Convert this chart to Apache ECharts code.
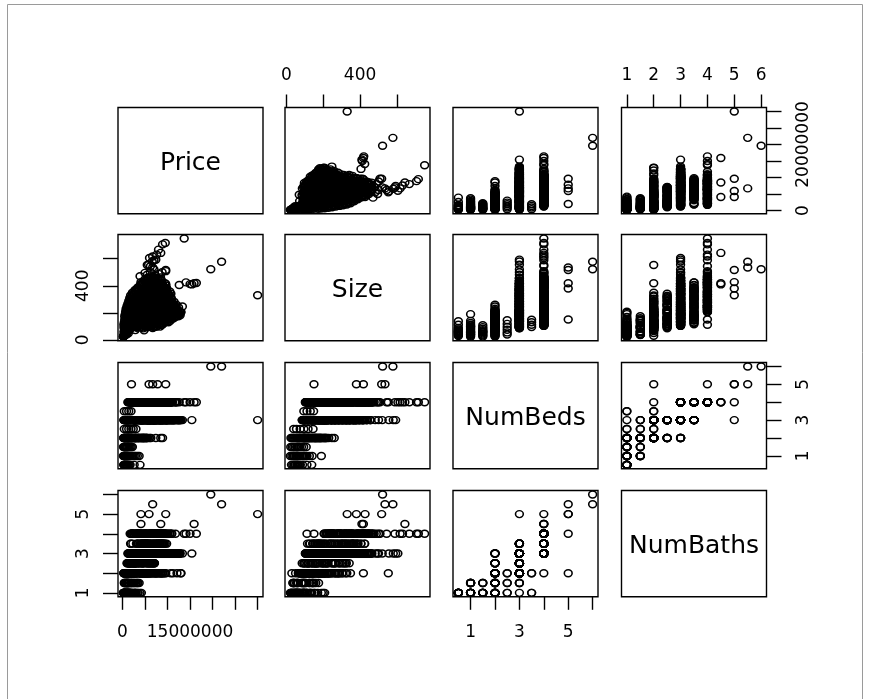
<!DOCTYPE html>
<html>
<head>
<meta charset="utf-8">
<script src="https://cdn.jsdelivr.net/npm/echarts@6/dist/echarts.min.js"></script>
<style>
  html, body { margin: 0; padding: 0; background: #fff; }
  #chart { width: 869px; height: 699px; }
</style>
</head>
<body>
<div id="chart"></div>
<script>
// Scatterplot matrix of house listings: Price, Size, NumBeds, NumBaths.
const varNames = ['Price', 'Size', 'NumBeds', 'NumBaths'];

// Each row is [price, size, beds, baths].
const smallHomes = [
  [250000, 28, 0.5, 1], [380000, 35, 0.5, 1], [420000, 60, 0.5, 1], [520000, 42, 0.5, 1], [650000, 50, 0.5, 1],
  [800000, 58, 0.5, 1], [950000, 64, 0.5, 1], [1100000, 70, 0.5, 1], [1300000, 48, 0.5, 1], [1500000, 76, 0.5, 1],
  [1700000, 88, 0.5, 1], [2600000, 112, 0.5, 1], [3900000, 138, 0.5, 1],
  [200000, 22, 1, 1], [350000, 30, 1, 1], [450000, 55, 1, 1], [500000, 38, 1, 1.5], [650000, 45, 1, 1],
  [800000, 52, 1, 1], [900000, 40, 1, 1.5], [950000, 60, 1, 1.5], [1100000, 66, 1, 1], [1300000, 74, 1, 1],
  [1500000, 82, 1, 1.5], [1750000, 90, 1, 1], [2000000, 98, 1, 1], [2300000, 105, 1, 1.5], [2600000, 112, 1, 1],
  [2900000, 96, 1, 1], [3300000, 125, 1, 1], [3700000, 140, 1, 1.5], [1200000, 190, 1, 1],
  [220000, 24, 1.5, 1], [400000, 32, 1.5, 1], [550000, 60, 1.5, 1], [600000, 40, 1.5, 1.5], [800000, 48, 1.5, 1],
  [1000000, 56, 1.5, 1], [1200000, 64, 1.5, 1.5], [1450000, 72, 1.5, 1], [1700000, 82, 1.5, 1], [1950000, 94, 1.5, 1.5],
  [2200000, 108, 1.5, 1],
  [400000, 40, 2.5, 1], [900000, 55, 2.5, 1.5], [1400000, 75, 2.5, 2], [1900000, 95, 2.5, 1], [2400000, 118, 2.5, 2],
  [3000000, 145, 2.5, 1.5],
  [400000, 95, 3.5, 1], [900000, 112, 3.5, 2], [1400000, 130, 3.5, 1], [1900000, 148, 3.5, 2]
];
const twoBedHomes = [
  [250000, 25, 2, 1], [600000, 40, 2, 1], [950000, 55, 2, 1], [1300000, 70, 2, 1], [1700000, 90, 2, 1],
  [2200000, 110, 2, 1], [2800000, 130, 2, 1], [3500000, 150, 2, 1], [4200000, 170, 2, 1], [1000000, 200, 2, 1],
  [3000000, 208, 2, 1],
  [400000, 35, 2, 1.5], [900000, 60, 2, 1.5], [1400000, 85, 2, 1.5], [2000000, 105, 2, 1.5], [2700000, 125, 2, 1.5],
  [3400000, 150, 2, 1.5], [1800000, 175, 2, 1.5],
  [300000, 30, 2, 2], [700000, 50, 2, 2], [1100000, 65, 2, 2], [1600000, 80, 2, 2], [2100000, 95, 2, 2],
  [2600000, 115, 2, 2], [3100000, 135, 2, 2], [3600000, 155, 2, 2], [4100000, 175, 2, 2], [4600000, 190, 2, 2],
  [5100000, 205, 2, 2], [5600000, 220, 2, 2], [6300000, 100, 2, 2], [7400000, 120, 2, 2], [8500000, 110, 2, 2],
  [2400000, 260, 2, 2], [4800000, 70, 2, 2], [5300000, 140, 2, 2],
  [1500000, 120, 2, 2.5], [2900000, 160, 2, 2.5], [4400000, 195, 2, 2.5],
  [2000000, 140, 2, 3], [3800000, 180, 2, 3], [5300000, 215, 2, 3], [8900000, 247, 2, 3],
  [450000, 45, 2, 1.5], [850000, 75, 2, 2], [1250000, 100, 2, 1], [1650000, 130, 2, 2], [2050000, 160, 2, 2.5],
  [2450000, 185, 2, 2], [2850000, 72, 2, 2], [3250000, 95, 2, 1.5], [3650000, 118, 2, 2.5], [4050000, 142, 2, 2],
  [4450000, 165, 2, 3], [4900000, 188, 2, 2], [5400000, 212, 2, 2.5], [350000, 60, 2, 1], [750000, 88, 2, 1],
  [1150000, 125, 2, 1.5], [1550000, 155, 2, 1], [1950000, 182, 2, 2], [550000, 110, 2, 2], [1250000, 230, 2, 2]
];
const homesUpTo160 = [
  [1200000, 100, 3, 1], [800000, 90, 3, 1.5], [1200000, 140, 3, 1.5], [2500000, 160, 3, 1.5],
  [1300000, 105, 4, 3], [2000000, 112, 4, 4],
  [350000, 88, 3, 2], [1050000, 94, 3, 2], [1800000, 86, 3, 2.5], [2500000, 97, 3, 2], [3200000, 90, 3, 2],
  [3900000, 95, 3, 2.5], [4600000, 85, 2, 2], [5300000, 92, 3, 2], [6000000, 98, 2, 2], [6700000, 87, 3, 2],
  [7500000, 96, 3, 2],
  [300000, 112, 3, 2], [1000000, 106, 3, 2.5], [1700000, 116, 4, 3], [2400000, 108, 3, 2], [3100000, 114, 4, 3],
  [3800000, 104, 3, 2], [4500000, 118, 3, 2.5], [5200000, 110, 4, 3], [5900000, 107, 3, 2], [6600000, 115, 3, 3],
  [7300000, 105, 4, 3], [8100000, 117, 3, 2], [8800000, 111, 3, 3],
  [400000, 128, 3, 2], [1100000, 134, 3, 2.5], [1800000, 125, 4, 3.5], [2500000, 137, 3, 2], [3200000, 130, 4, 3],
  [3900000, 126, 3, 3], [4600000, 136, 3, 2], [5300000, 129, 4, 3.5], [6000000, 133, 3, 2.5], [6700000, 124, 4, 3],
  [7400000, 138, 3, 3], [8100000, 131, 4, 3], [8800000, 127, 3, 2], [9500000, 135, 3, 3], [10200000, 130, 4, 3],
  [500000, 148, 3, 2], [1200000, 155, 4, 3], [1900000, 145, 3, 2.5], [2600000, 152, 3, 3], [3300000, 158, 4, 3.5],
  [4000000, 146, 3, 2], [4700000, 154, 4, 3], [5400000, 149, 3, 3], [6100000, 157, 3, 2.5], [6800000, 144, 4, 3.5],
  [7500000, 151, 3, 3], [8200000, 156, 4, 3], [8900000, 147, 3, 2], [9600000, 153, 4, 3], [10300000, 150, 3, 3],
  [11000000, 155, 3, 3]
];
const homesUpTo240 = [
  [500000, 172, 3, 2], [1200000, 166, 2, 2], [1900000, 175, 4, 3.5], [2600000, 168, 3, 2.5], [3300000, 177, 3, 3],
  [4000000, 164, 4, 3], [4700000, 171, 3, 2], [5400000, 176, 4, 3.5], [6100000, 167, 3, 3], [6800000, 174, 3, 2.5],
  [7500000, 165, 4, 3], [8200000, 173, 3, 3], [8900000, 169, 4, 3.5], [9600000, 178, 3, 2], [10300000, 166, 4, 3],
  [11000000, 172, 3, 3], [11700000, 168, 3, 3], [12400000, 175, 3, 3],
  [600000, 188, 3, 2], [1300000, 194, 3, 2.5], [2000000, 185, 4, 3], [2700000, 197, 3, 3], [3400000, 190, 4, 3.5],
  [4100000, 186, 3, 2], [4800000, 196, 3, 3], [5500000, 189, 4, 3], [6200000, 193, 3, 2.5], [6900000, 184, 4, 3.5],
  [7600000, 198, 3, 3], [8300000, 187, 4, 3], [9000000, 195, 3, 2], [9700000, 191, 4, 3], [10400000, 186, 3, 3],
  [11100000, 197, 4, 3], [11800000, 189, 3, 3], [12600000, 193, 3, 3],
  [700000, 208, 3, 2], [1400000, 214, 3, 3], [2100000, 205, 4, 4], [2800000, 217, 3, 2.5], [3500000, 211, 4, 3],
  [4200000, 206, 3, 3], [4900000, 216, 4, 4], [5600000, 209, 3, 2], [6300000, 213, 3, 3.5], [7000000, 204, 4, 3],
  [7700000, 218, 3, 3], [8400000, 207, 4, 4], [9100000, 215, 3, 3], [9800000, 210, 4, 3.5], [10500000, 212, 3, 3],
  [11200000, 206, 3, 2], [11900000, 217, 4, 3], [12700000, 209, 3, 3],
  [800000, 228, 3, 2], [1500000, 234, 4, 3], [2200000, 225, 3, 2.5], [2900000, 237, 4, 4], [3600000, 230, 3, 3],
  [4300000, 226, 3, 2], [5000000, 236, 4, 3.5], [5700000, 229, 3, 3], [6400000, 233, 4, 4], [7100000, 224, 3, 2.5],
  [7800000, 238, 4, 3], [8500000, 227, 3, 3], [9200000, 235, 4, 4], [9900000, 231, 3, 3], [10600000, 226, 4, 3],
  [11300000, 237, 3, 3], [12100000, 229, 3, 2],
  [12500000, 188, 3, 3], [13000000, 205, 3, 2]
];
const homesUpTo340 = [
  [1000000, 248, 3, 2], [1700000, 254, 4, 4], [2400000, 245, 3, 3], [3100000, 257, 4, 3.5], [3800000, 250, 3, 2.5],
  [4500000, 246, 4, 4], [5200000, 256, 3, 3], [5900000, 249, 4, 3], [6600000, 253, 3, 2.5], [7300000, 244, 4, 4],
  [8000000, 258, 3, 3], [8700000, 247, 4, 3.5], [9400000, 255, 3, 3], [10100000, 251, 4, 4], [10800000, 246, 3, 3],
  [11600000, 252, 4, 3], [13300000, 247, 3, 3],
  [1200000, 268, 3, 2], [1900000, 274, 4, 3], [2600000, 265, 3, 2.5], [3300000, 277, 4, 4], [4000000, 270, 3, 3],
  [4700000, 266, 4, 3.5], [5400000, 276, 3, 2], [6100000, 269, 4, 4], [6800000, 273, 3, 3], [7500000, 264, 4, 3],
  [8200000, 278, 3, 3.5], [8900000, 267, 4, 4], [9600000, 275, 3, 3], [10300000, 271, 4, 3], [11000000, 266, 3, 3],
  [1400000, 288, 3, 2], [2100000, 294, 4, 4], [2800000, 285, 3, 2.5], [3500000, 297, 4, 3], [4200000, 290, 3, 3],
  [4900000, 286, 4, 4], [5600000, 296, 3, 3.5], [6300000, 289, 4, 3], [7000000, 293, 3, 2.5], [7700000, 284, 4, 4],
  [8400000, 298, 3, 3], [9100000, 287, 4, 3.5], [9800000, 295, 3, 3], [10500000, 291, 4, 4],
  [1600000, 308, 3, 2.5], [2300000, 314, 4, 3], [3000000, 305, 3, 2], [3700000, 317, 4, 4], [4400000, 310, 3, 3],
  [5100000, 306, 4, 3.5], [5800000, 316, 3, 2.5], [6500000, 309, 4, 4], [7200000, 313, 3, 3], [7900000, 304, 4, 3],
  [8600000, 318, 3, 3.5], [9300000, 307, 4, 4], [10000000, 315, 3, 3], [10800000, 311, 4, 3],
  [1800000, 328, 3, 2], [2500000, 334, 4, 4], [3200000, 325, 3, 2.5], [3900000, 337, 4, 3], [4600000, 330, 3, 3],
  [5300000, 326, 4, 4], [6000000, 336, 3, 3.5], [6700000, 329, 4, 3], [7400000, 333, 3, 3], [8100000, 324, 4, 4],
  [8800000, 338, 3, 3], [9500000, 327, 4, 3.5], [10300000, 335, 3, 3]
];
const homesUpTo460 = [
  [2200000, 348, 3, 2], [2900000, 354, 4, 4], [3600000, 345, 3, 3], [4300000, 357, 4, 3.5], [5000000, 350, 3, 3],
  [5700000, 346, 4, 4], [6400000, 356, 3, 3], [7100000, 349, 4, 3], [7800000, 353, 3, 3.5], [8500000, 344, 4, 4],
  [9200000, 358, 3, 3], [9900000, 347, 4, 4],
  [2800000, 368, 3, 3], [3500000, 374, 4, 4], [4200000, 365, 3, 3.5], [4900000, 377, 4, 3], [5600000, 370, 3, 3],
  [6300000, 366, 4, 4], [7000000, 376, 3, 3], [7700000, 369, 4, 3.5], [8400000, 373, 3, 3], [9100000, 364, 4, 4],
  [9800000, 378, 3, 3],
  [3400000, 388, 4, 4], [4100000, 394, 3, 3], [4800000, 385, 4, 3.5], [5500000, 397, 3, 3], [6200000, 390, 4, 4],
  [6900000, 386, 3, 3], [7600000, 396, 4, 3], [8300000, 389, 3, 3.5], [9000000, 393, 4, 4], [9700000, 384, 3, 3],
  [4000000, 408, 4, 4], [4700000, 414, 3, 3], [5400000, 405, 4, 3.5], [6100000, 417, 3, 3], [6800000, 410, 4, 4],
  [7500000, 406, 3, 3], [8200000, 416, 4, 4], [8900000, 409, 3, 3], [9600000, 413, 4, 3],
  [4500000, 428, 4, 4], [5200000, 434, 3, 3], [5900000, 425, 4, 3.5], [6600000, 437, 3, 3], [7300000, 430, 4, 4],
  [8000000, 426, 3, 3], [8700000, 436, 4, 4],
  [5000000, 448, 4, 4], [5700000, 454, 3, 3], [6400000, 445, 4, 4], [7100000, 457, 3, 3], [7800000, 450, 4, 4],
  [8500000, 446, 4, 3],
  [4100000, 410, 4, 4.5], [4100000, 427, 4, 5]
];
const homesMidA = [
  [650000, 101, 3, 2], [1350000, 96, 2, 1.5], [2050000, 104, 3, 2], [2750000, 99, 3, 2.5], [3450000, 106, 4, 3],
  [4150000, 95, 3, 2], [4850000, 102, 2, 2], [5550000, 97, 3, 2.5], [6250000, 105, 3, 2], [6950000, 94, 3, 2],
  [7650000, 103, 4, 3], [8350000, 98, 3, 2],
  [700000, 121, 3, 2], [1400000, 116, 3, 2.5], [2100000, 124, 4, 3], [2800000, 119, 3, 2], [3500000, 126, 3, 3],
  [4200000, 115, 4, 3.5], [4900000, 122, 3, 2], [5600000, 117, 3, 2.5], [6300000, 125, 4, 3], [7000000, 114, 3, 3],
  [7700000, 123, 3, 2], [8400000, 118, 4, 3], [9100000, 120, 3, 3],
  [800000, 141, 3, 2], [1500000, 136, 4, 3], [2200000, 144, 3, 2.5], [2900000, 139, 3, 2], [3600000, 146, 4, 3.5],
  [4300000, 135, 3, 3], [5000000, 142, 3, 2], [5700000, 137, 4, 3], [6400000, 145, 3, 2.5], [7100000, 134, 3, 3],
  [7800000, 143, 4, 3.5], [8500000, 138, 3, 2], [9200000, 144, 4, 3], [9900000, 136, 3, 3], [10600000, 141, 3, 3],
  [850000, 161, 3, 2], [1550000, 156, 3, 2.5], [2250000, 164, 4, 3], [2950000, 159, 3, 3], [3650000, 166, 3, 2],
  [4350000, 155, 4, 3.5], [5050000, 162, 3, 2.5], [5750000, 157, 4, 3], [6450000, 165, 3, 3], [7150000, 154, 3, 2],
  [7850000, 163, 4, 3], [8550000, 158, 3, 3], [9250000, 166, 4, 3.5], [9950000, 156, 3, 3], [10650000, 161, 4, 3],
  [11350000, 159, 3, 3],
  [900000, 181, 3, 2], [1600000, 176, 3, 3], [2300000, 184, 4, 3.5], [3000000, 179, 3, 2], [3700000, 186, 4, 3],
  [4400000, 175, 3, 2.5], [5100000, 182, 3, 3], [5800000, 177, 4, 3], [6500000, 185, 3, 2], [7200000, 174, 4, 3.5],
  [7900000, 183, 3, 3], [8600000, 178, 4, 3], [9300000, 186, 3, 3], [10000000, 176, 4, 3], [10700000, 181, 3, 2],
  [11400000, 184, 3, 3], [12100000, 179, 4, 3], [12800000, 182, 3, 3],
  [1000000, 201, 3, 2], [1700000, 196, 4, 3], [2400000, 204, 3, 2.5], [3100000, 199, 3, 3], [3800000, 206, 4, 4],
  [4500000, 195, 3, 2], [5200000, 202, 4, 3.5], [5900000, 197, 3, 3], [6600000, 205, 3, 2.5], [7300000, 194, 4, 3],
  [8000000, 203, 3, 3], [8700000, 198, 4, 3.5], [9400000, 206, 3, 2], [10100000, 196, 4, 3], [10800000, 201, 3, 3],
  [11500000, 204, 3, 3], [12200000, 199, 3, 3], [12900000, 202, 3, 2],
  [1100000, 221, 3, 2], [1800000, 216, 3, 3], [2500000, 224, 4, 4], [3200000, 219, 3, 2.5], [3900000, 226, 4, 3],
  [4600000, 215, 3, 3], [5300000, 222, 4, 4], [6000000, 217, 3, 2], [6700000, 225, 4, 3.5], [7400000, 214, 3, 3],
  [8100000, 223, 4, 4], [8800000, 218, 3, 3], [9500000, 226, 4, 3], [10200000, 216, 3, 3], [10900000, 221, 4, 4],
  [11600000, 224, 3, 3], [12300000, 219, 3, 3],
  [1250000, 241, 3, 2], [1950000, 236, 4, 3], [2650000, 244, 3, 2.5], [3350000, 239, 4, 4], [4050000, 246, 3, 3],
  [4750000, 235, 4, 3.5], [5450000, 242, 3, 2], [6150000, 237, 4, 4], [6850000, 245, 3, 3], [7550000, 234, 4, 3],
  [8250000, 243, 3, 3.5], [8950000, 238, 4, 4], [9650000, 246, 3, 3], [10350000, 236, 4, 3], [11050000, 241, 3, 3],
  [11750000, 244, 4, 4], [12450000, 239, 3, 3]
];
const homesMidB = [
  [1450000, 261, 3, 2.5], [2150000, 256, 4, 4], [2850000, 264, 3, 3], [3550000, 259, 4, 3], [4250000, 266, 3, 2],
  [4950000, 255, 4, 4], [5650000, 262, 3, 3], [6350000, 257, 4, 3.5], [7050000, 265, 3, 2.5], [7750000, 254, 4, 4],
  [8450000, 263, 3, 3], [9150000, 258, 4, 3], [9850000, 266, 3, 3], [10550000, 256, 4, 4], [11250000, 261, 3, 3],
  [11950000, 259, 3, 3],
  [1650000, 281, 3, 2], [2350000, 276, 4, 3], [3050000, 284, 3, 3], [3750000, 279, 4, 4], [4450000, 286, 3, 2.5],
  [5150000, 275, 4, 3.5], [5850000, 282, 3, 3], [6550000, 277, 4, 4], [7250000, 285, 3, 2], [7950000, 274, 4, 3],
  [8650000, 283, 3, 3], [9350000, 278, 4, 4], [10050000, 286, 3, 3], [10750000, 276, 4, 3], [11450000, 281, 3, 3],
  [1850000, 301, 3, 2], [2550000, 296, 4, 4], [3250000, 304, 3, 3], [3950000, 299, 4, 3.5], [4650000, 306, 3, 2.5],
  [5350000, 295, 4, 4], [6050000, 302, 3, 3], [6750000, 297, 4, 3], [7450000, 305, 3, 3.5], [8150000, 294, 4, 4],
  [8850000, 303, 3, 3], [9550000, 298, 4, 3], [10250000, 306, 3, 3], [10950000, 296, 4, 4],
  [2050000, 321, 3, 2], [2750000, 316, 4, 3], [3450000, 324, 3, 2.5], [4150000, 319, 4, 4], [4850000, 326, 3, 3],
  [5550000, 315, 4, 3.5], [6250000, 322, 3, 3], [6950000, 317, 4, 4], [7650000, 325, 3, 3], [8350000, 314, 4, 3],
  [9050000, 323, 3, 3.5], [9750000, 318, 4, 4], [10450000, 326, 3, 3],
  [2350000, 341, 3, 2.5], [3050000, 336, 4, 4], [3750000, 344, 3, 3], [4450000, 339, 4, 3], [5150000, 346, 3, 3.5],
  [5850000, 335, 4, 4], [6550000, 342, 3, 3], [7250000, 337, 4, 3.5], [7950000, 345, 3, 3], [8650000, 334, 4, 4],
  [9350000, 343, 3, 3], [10050000, 338, 4, 3], [10750000, 341, 3, 3],
  [2850000, 361, 3, 3], [3550000, 356, 4, 4], [4250000, 364, 3, 3.5], [4950000, 359, 4, 3], [5650000, 366, 3, 3],
  [6350000, 355, 4, 4], [7050000, 362, 3, 3], [7750000, 357, 4, 3.5], [8450000, 365, 3, 3], [9150000, 354, 4, 4],
  [9850000, 363, 3, 3], [10500000, 358, 4, 3],
  [3450000, 381, 4, 4], [4150000, 376, 3, 3], [4850000, 384, 4, 3.5], [5550000, 379, 3, 3], [6250000, 386, 4, 4],
  [6950000, 375, 3, 3], [7650000, 382, 4, 3], [8350000, 377, 3, 3.5], [9050000, 385, 4, 4], [9750000, 380, 3, 3],
  [4050000, 401, 4, 4], [4750000, 396, 3, 3], [5450000, 404, 4, 3.5], [6150000, 399, 3, 3], [6850000, 406, 4, 4],
  [7550000, 395, 3, 3], [8250000, 402, 4, 4], [8950000, 397, 3, 3], [9650000, 400, 4, 3],
  [4550000, 421, 4, 4], [5250000, 416, 3, 3], [5950000, 424, 4, 3.5], [6650000, 419, 3, 3], [7350000, 426, 4, 4],
  [8050000, 415, 3, 3], [8750000, 422, 4, 4], [9450000, 418, 3, 3],
  [5150000, 441, 4, 4], [5850000, 436, 3, 3], [6550000, 444, 4, 4], [7250000, 439, 3, 3], [7950000, 446, 4, 4],
  [8650000, 437, 4, 3],
  [5650000, 461, 4, 4], [6350000, 456, 3, 3], [7050000, 464, 4, 4], [7750000, 459, 4, 3], [8450000, 462, 4, 4]
];
const largeHomes = [
  [6400000, 464, 4, 3], [7200000, 476, 4, 4], [8000000, 488, 4, 4], [8800000, 500, 4, 4], [9600000, 508, 4, 4],
  [5000000, 495, 4, 3], [3900000, 470, 4, 4],
  [5500000, 482, 3, 3], [6200000, 500, 3, 3], [7000000, 520, 3, 3], [5800000, 556, 3, 3], [6600000, 580, 3, 3],
  [7400000, 593, 3, 3],
  [5500000, 553, 4, 2], [6200000, 544, 4, 4], [7000000, 589, 4, 4], [6000000, 605, 4, 3], [6700000, 617, 4, 4],
  [7600000, 630, 4, 4], [8500000, 643, 4, 4.5], [8000000, 667, 4, 4], [8900000, 706, 4, 4], [9500000, 716, 4, 4],
  [2000000, 150, 5, 4], [5900000, 380, 5, 5], [7800000, 418, 5, 2], [9600000, 517, 5, 5], [6700000, 535, 5, 5.5]
];
const luxuryHomes = [
  [16400000, 420, 4, 4], [15900000, 418, 4, 4.5], [15000000, 412, 4, 4], [14100000, 425, 4, 4], [12600000, 405, 4, 3],
  [15400000, 410, 3, 3], [13700000, 750, 4, 4],
  [30000000, 330, 3, 5], [22000000, 578, 6, 5.5], [19600000, 522, 6, 6]
];

// Tick positions and the labels printed on the outer margins.
const priceTicks = [0, 5000000, 10000000, 15000000, 20000000, 25000000, 30000000];
const sizeTicks = [0, 200, 400, 600];
const countTicks = [1, 2, 3, 4, 5, 6];
const priceBottomLabels = [0, 15000000];
const priceRightLabels = [0, 20000000];
const sizeLabels = [0, 400];
const oddCountLabels = [1, 3, 5];

// One column per variable.
const allRows = [].concat(smallHomes, twoBedHomes, homesUpTo160, homesUpTo240, homesUpTo340,
  homesUpTo460, homesMidA, homesMidB, largeHomes, luxuryHomes);
const columns = [0, 1, 2, 3].map(j => allRows.map(r => r[j]));

// Axis ranges extend each variable's span by 4% on both sides.
const ranges = columns.map(v => {
  const lo = Math.min(...v), hi = Math.max(...v), pad = (hi - lo) * 0.04;
  return [lo - pad, hi + pad];
});

// Panel layout (pixels).
const colLeft = [118, 285, 453, 621.5];
const rowTop = [107.5, 234.5, 362.5, 490.5];
const panelW = 145, panelH = 106.3;

const FONT = 'DejaVu Sans';
const tickFont = 17;
const lineW = 1.4;

const ticksFor = [priceTicks, sizeTicks, countTicks, countTicks];
const topLabels = { 1: sizeLabels, 3: countTicks };
const bottomLabels = { 0: priceBottomLabels, 2: oddCountLabels };
const leftLabels = { 1: sizeLabels, 3: oddCountLabels };
const rightLabels = { 0: priceRightLabels, 2: oddCountLabels };

const fmt = v => String(v);

const grids = [], xAxes = [], yAxes = [], series = [], graphics = [];
let k = 0;
for (let r = 0; r < 4; r++) {
  for (let c = 0; c < 4; c++) {
    const left = colLeft[c], top = rowTop[r];
    if (r === c) {
      graphics.push({
        type: 'rect', silent: true,
        shape: { x: left, y: top, width: panelW, height: panelH },
        style: { fill: null, stroke: '#000', lineWidth: lineW }
      });
      graphics.push({
        type: 'text', silent: true,
        x: left + panelW / 2, y: top + panelH / 2 + 3,
        style: { text: varNames[r], fill: '#000', font: '25px "' + FONT + '"', align: 'center', verticalAlign: 'middle' }
      });
      continue;
    }
    grids.push({
      left: left, top: top, width: panelW, height: panelH,
      show: true, borderColor: '#000', borderWidth: lineW, backgroundColor: 'transparent'
    });
    let xPos = 'bottom', xLabels = null;
    if (r === 0 && topLabels[c]) { xPos = 'top'; xLabels = topLabels[c]; }
    if (r === 3 && bottomLabels[c]) { xPos = 'bottom'; xLabels = bottomLabels[c]; }
    let yPos = 'left', yLabels = null;
    if (c === 0 && leftLabels[r]) { yPos = 'left'; yLabels = leftLabels[r]; }
    if (c === 3 && rightLabels[r]) { yPos = 'right'; yLabels = rightLabels[r]; }

    xAxes.push({
      gridIndex: k, type: 'value', position: xPos,
      min: ranges[c][0], max: ranges[c][1],
      axisLine: { show: false, onZero: false }, splitLine: { show: false },
      axisTick: { show: !!xLabels, customValues: ticksFor[c], length: 13, lineStyle: { color: '#000', width: lineW } },
      axisLabel: {
        show: !!xLabels, customValues: xLabels || [], formatter: fmt,
        margin: xPos === 'top' ? 23 : 27,
        color: '#000', fontFamily: FONT, fontSize: tickFont
      }
    });
    yAxes.push({
      gridIndex: k, type: 'value', position: yPos,
      min: ranges[r][0], max: ranges[r][1],
      axisLine: { show: false, onZero: false }, splitLine: { show: false },
      axisTick: { show: !!yLabels, customValues: ticksFor[r], length: 15, lineStyle: { color: '#000', width: lineW } },
      axisLabel: {
        show: !!yLabels, customValues: yLabels || [], formatter: fmt, rotate: 90,
        margin: yPos === 'right' ? 29 : 26,
        color: '#000', fontFamily: FONT, fontSize: tickFont
      }
    });
    const data = allRows.map(row => [row[c], row[r]]);
    series.push({
      type: 'scatter', xAxisIndex: k, yAxisIndex: k, data: data,
      symbol: 'circle', symbolSize: [7.8, 7], clip: false, silent: true,
      itemStyle: { color: 'rgba(0,0,0,0)', borderColor: '#000', borderWidth: 1.5, opacity: 1 },
      emphasis: { disabled: true }
    });
    k++;
  }
}

// Thin outer frame around the figure.
graphics.unshift({
  type: 'rect', silent: true,
  shape: { x: 7.5, y: 4.5, width: 855, height: 720 },
  style: { fill: null, stroke: '#9a9a9a', lineWidth: 1 }
});

const chart = echarts.init(document.getElementById('chart'), null, { renderer: 'canvas' });
chart.setOption({
  animation: false,
  backgroundColor: '#fff',
  grid: grids, xAxis: xAxes, yAxis: yAxes, series: series,
  graphic: graphics
});
</script>
</body>
</html>
